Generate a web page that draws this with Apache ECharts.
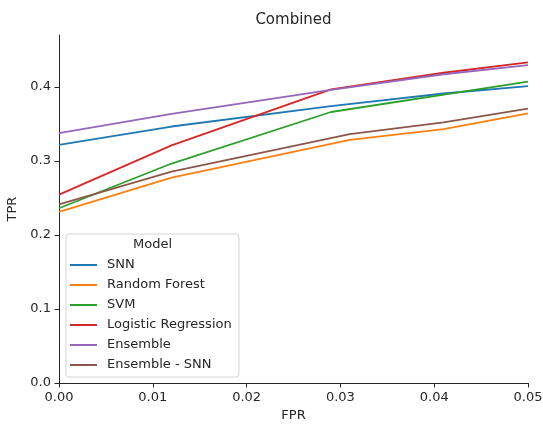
<!DOCTYPE html>
<html>
<head>
<meta charset="utf-8">
<title>Combined</title>
<script src="https://cdn.jsdelivr.net/npm/echarts@6/dist/echarts.min.js"></script>
<style>
  html, body { margin: 0; padding: 0; background: #fff; }
  #chart { width: 543px; height: 424px; }
</style>
</head>
<body>
<div id="chart"></div>
<script>
// ROC operating points (FPR, TPR) per model
const models = ['SNN', 'Random Forest', 'SVM', 'Logistic Regression', 'Ensemble', 'Ensemble - SNN'];
const colors = ['#1f77b4', '#ff7f0e', '#2ca02c', '#d62728', '#9467bd', '#8c564b'];

const snnFpr = [0, 0.012, 0.029, 0.041, 0.05];
const snnTpr = [0.3216, 0.3464, 0.374, 0.391, 0.401];

const rfFpr = [0, 0.012, 0.031, 0.041, 0.05];
const rfTpr = [0.231, 0.2775, 0.3284, 0.343, 0.364];

const svmFpr = [0, 0.012, 0.029, 0.05];
const svmTpr = [0.236, 0.2964, 0.366, 0.407];

const lrFpr = [0, 0.012, 0.029, 0.041, 0.05];
const lrTpr = [0.2545, 0.321, 0.3965, 0.419, 0.433];

const ensFpr = [0, 0.012, 0.029, 0.041, 0.05];
const ensTpr = [0.3374, 0.3635, 0.396, 0.417, 0.4293];

const ensSnnFpr = [0, 0.012, 0.031, 0.041, 0.05];
const ensSnnTpr = [0.2414, 0.2856, 0.336, 0.352, 0.3705];

const xTicks = [0, 0.01, 0.02, 0.03, 0.04, 0.05];
const yTicks = [0, 0.1, 0.2, 0.3, 0.4];

const curves = [
  [snnFpr, snnTpr],
  [rfFpr, rfTpr],
  [svmFpr, svmTpr],
  [lrFpr, lrTpr],
  [ensFpr, ensTpr],
  [ensSnnFpr, ensSnnTpr]
];

const FONT = 'DejaVu Sans';
const INK = '#262626';

const series = models.map((name, i) => ({
  name: name,
  type: 'line',
  data: curves[i][0].map((x, k) => [x, curves[i][1][k]]),
  showSymbol: false,
  symbol: 'none',
  smooth: false,
  lineStyle: { color: colors[i], width: 1.8 },
  itemStyle: { color: colors[i] },
  emphasis: { disabled: true },
  z: 2
}));

const chart = echarts.init(document.getElementById('chart'), null, { renderer: 'canvas' });

chart.setOption({
  animation: false,
  backgroundColor: '#ffffff',
  textStyle: { fontFamily: FONT, color: INK },
  title: {
    text: 'Combined',
    left: 293.5,
    top: 13,
    padding: 0,
    textAlign: 'center',
    textStyle: { fontFamily: FONT, fontSize: 15, fontWeight: 'normal', color: INK }
  },
  grid: {
    left: 59, right: 15, top: 35, bottom: 41,
    containLabel: false,
    outerBoundsMode: 'none'
  },
  xAxis: {
    type: 'value',
    min: 0,
    max: 0.05,
    interval: 0.01,
    name: 'FPR',
    nameLocation: 'middle',
    nameGap: 26,
    nameTextStyle: { fontFamily: FONT, fontSize: 13, color: INK },
    axisLine: { show: true, onZero: false, lineStyle: { color: INK, width: 1 } },
    axisTick: { show: true, inside: false, length: 4.5, lineStyle: { color: INK, width: 1 }, customValues: xTicks },
    axisLabel: {
      margin: 8,
      fontFamily: FONT, fontSize: 13, color: INK,
      customValues: xTicks,
      formatter: v => v.toFixed(2)
    },
    splitLine: { show: false }
  },
  yAxis: {
    type: 'value',
    min: 0,
    max: 0.47,
    name: 'TPR',
    nameLocation: 'middle',
    nameGap: 35,
    nameTextStyle: { fontFamily: FONT, fontSize: 13, color: INK },
    axisLine: { show: true, onZero: false, lineStyle: { color: INK, width: 1 } },
    axisTick: { show: true, inside: false, length: 4.5, lineStyle: { color: INK, width: 1 }, customValues: yTicks },
    axisLabel: {
      margin: 8,
      fontFamily: FONT, fontSize: 13, color: INK,
      customValues: yTicks,
      formatter: v => v.toFixed(1)
    },
    splitLine: { show: false }
  },
  graphic: [
    {
      type: 'rect',
      z: 3,
      shape: { x: 66, y: 234, width: 173, height: 143, r: 3 },
      style: { fill: 'rgba(255,255,255,0.85)', stroke: '#d4d4d4', lineWidth: 1 }
    },
    {
      type: 'text',
      z: 4,
      x: 152.5,
      y: 245,
      style: {
        text: 'Model',
        fontFamily: FONT,
        fontSize: 13,
        fill: INK,
        align: 'center',
        verticalAlign: 'middle'
      }
    }
  ],
  legend: {
    orient: 'vertical',
    left: 70,
    top: 258,
    padding: 0,
    z: 5,
    itemGap: 6,
    itemWidth: 27,
    itemHeight: 2,
    icon: 'rect',
    selectedMode: false,
    data: models,
    textStyle: { fontFamily: FONT, fontSize: 13, color: INK, lineHeight: 14, padding: [0, 0, 0, 5] }
  },
  series: series
});
</script>
</body>
</html>
